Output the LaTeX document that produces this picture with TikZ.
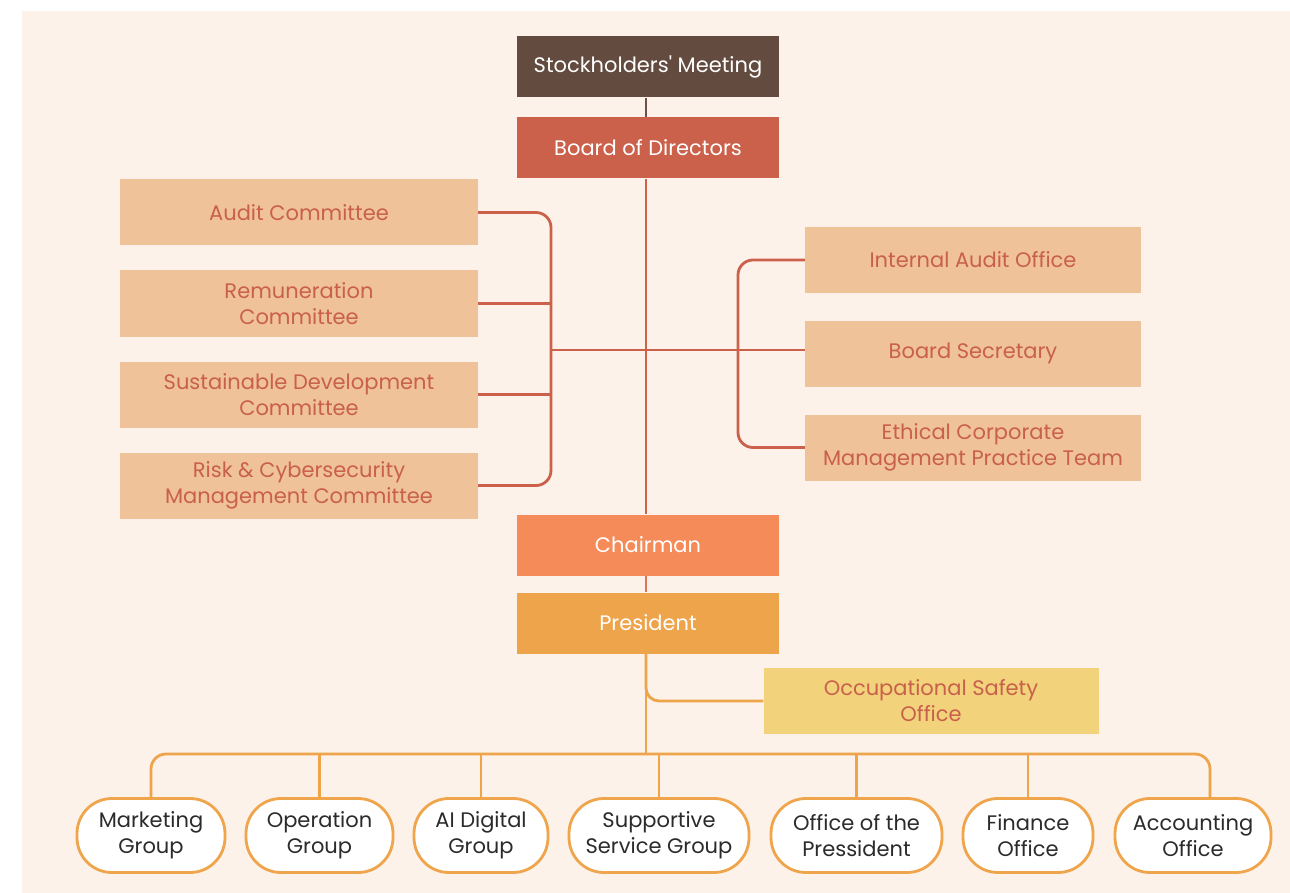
\documentclass[tikz,border=0pt]{standalone}
\usepackage{fontspec}
\setmainfont{Poppins}
\usetikzlibrary{calc}
\definecolor{bgc}{HTML}{FCF2EA}
\definecolor{smc}{HTML}{634B40}
\definecolor{bdc}{HTML}{CB604B}
\definecolor{cmc}{HTML}{EFC299}
\definecolor{txr}{HTML}{C9604B}
\definecolor{chc}{HTML}{F68B5A}
\definecolor{prc}{HTML}{EDA44A}
\definecolor{occ}{HTML}{F2D27B}
\definecolor{lfb}{HTML}{EFA54B}
\definecolor{dtx}{HTML}{2B2B2B}
\definecolor{brl}{HTML}{6B5147}
\definecolor{crl}{HTML}{DB7558}
\begin{document}
\begin{tikzpicture}[x=1pt,y=-1pt,
  every node/.style={inner sep=0pt, align=center},
  topbox/.style={rectangle, minimum width=262pt, minimum height=61pt, text=white, font=\fontsize{21}{26}\selectfont},
  combox/.style={rectangle, fill=cmc, minimum width=358pt, minimum height=66pt, text=txr, font=\fontsize{21}{26}\selectfont},
  rbox/.style={rectangle, fill=cmc, minimum width=336pt, minimum height=66pt, text=txr, font=\fontsize{21}{26}\selectfont},
  leaf/.style={rectangle, draw=lfb, line width=2.8pt, fill=white, rounded corners=35pt, minimum height=74pt, text=dtx, font=\fontsize{21}{26}\selectfont},
  redline/.style={draw=bdc, line width=2.8pt},
  orline/.style={draw=prc, line width=2.8pt}
]
\useasboundingbox (0,0) rectangle (1290,893);
\fill[white] (0,0) rectangle (1290,893);
\fill[bgc] (22,11) rectangle (1290,893);

% top chain
\node[topbox, fill=smc] (sm) at (648,67) {Stockholders\textquotesingle\ Meeting};
\node[topbox, fill=bdc] (bd) at (648,148) {Board of Directors};
\node[topbox, fill=chc] (ch) at (648,545) {Chairman};
\node[topbox, fill=prc] (pr) at (648,623) {President};

% committees
\node[combox] (au) at (299,212.5) {Audit Committee};
\node[combox] (re) at (299,303.5) {Remuneration\\Committee};
\node[combox] (su) at (299,394.5) {Sustainable Development\\Committee};
\node[combox] (ri) at (299,485.5) {Risk \& Cybersecurity\\Management Committee};

\node[rbox] (ia) at (973,260) {Internal Audit Office};
\node[rbox] (bs) at (973,353.5) {Board Secretary};
\node[rbox] (et) at (973,447.5) {Ethical Corporate\\Management Practice Team};

\node[rectangle, fill=occ, minimum width=335pt, minimum height=66pt, text=txr, font=\fontsize{21}{26}\selectfont] (os) at (931,701) {Occupational Safety\\Office};

% leaves
\node[leaf, minimum width=148pt] (mk) at (151,835.5) {Marketing\\Group};
\node[leaf, minimum width=147pt] (op) at (319.5,835.5) {Operation\\Group};
\node[leaf, minimum width=134pt] (ai) at (481,835.5) {AI Digital\\Group};
\node[leaf, minimum width=180pt] (sp) at (659,835.5) {Supportive\\Service Group};
\node[leaf, minimum width=171pt] (of) at (856.5,835.5) {Office of the\\Pressident};
\node[leaf, minimum width=130pt] (fi) at (1028,835.5) {Finance\\Office};
\node[leaf, minimum width=156pt] (ac) at (1193,835.5) {Accounting\\Office};

\coordinate (lb) at (551,350);
\coordinate (rb) at (738,350);
\coordinate (bus) at (646,754);
\coordinate (smb) at (646,98);
\coordinate (bdb) at (646,179);
\coordinate (chb) at (646,576);
\coordinate (prb) at (646,654);

% connectors
\draw[draw=brl, line width=2.8pt] (smb) -- (smb |- bd.north);
\draw[redline] (bdb) -- (bdb |- ch.north);
\draw[redline, rounded corners=15pt] (au.east) -| (lb) |- (ri.east);
\draw[redline] (re.east) -- (re.east -| lb);
\draw[redline] (su.east) -- (su.east -| lb);
\draw[redline] (lb) -- (lb -| bs.west);
\draw[redline, rounded corners=15pt] (ia.west) -| (rb) |- (et.west);
\draw[draw=crl, line width=2.8pt] (chb) -- (chb |- pr.north);
\draw[orline, rounded corners=13pt] (prb) |- (os.west);
\draw[orline] (prb) -- (bus);
\draw[orline, rounded corners=15pt] (mk.north) |- (bus) -| ([xshift=17pt]ac.north);
\draw[orline] (op.north) -- (op.north |- bus);
\draw[orline] (ai.north) -- (ai.north |- bus);
\draw[orline] (sp.north) -- (sp.north |- bus);
\draw[orline] (of.north) -- (of.north |- bus);
\draw[orline] (fi.north) -- (fi.north |- bus);
\end{tikzpicture}
\end{document}
